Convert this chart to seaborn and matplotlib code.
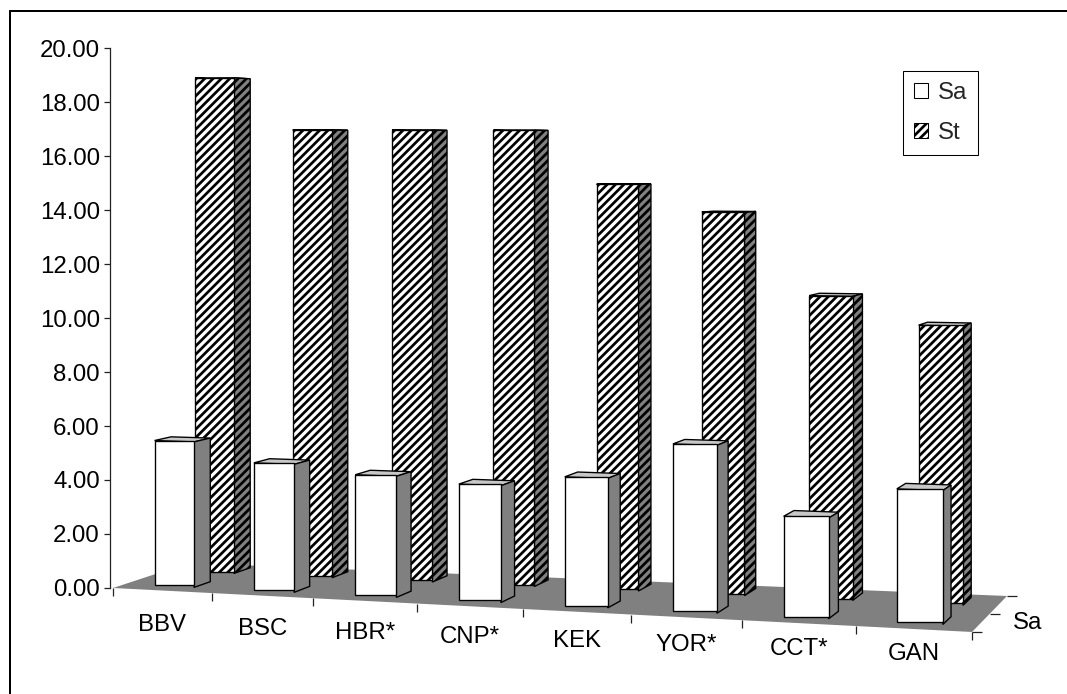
import numpy as np
import pandas as pd
import matplotlib
matplotlib.use("Agg")
import matplotlib.pyplot as plt
import seaborn as sns
from matplotlib.patches import Polygon, Patch
from matplotlib.lines import Line2D

# ---------------- data ----------------
categories = ["BBV", "BSC", "HBR*", "CNP*", "KEK", "YOR*", "CCT*", "GAN"]
sa_values = [5.4, 4.7, 4.4, 4.2, 4.6, 5.9, 3.5, 4.6]
st_values = [19.0, 17.0, 17.0, 17.0, 15.0, 14.0, 11.0, 10.0]
series_names = ["Sa", "St"]
y_ticks = np.arange(0, 21, 2)

# ---------------- style ----------------
DPI = 75
W, H = 1067, 694
FS = 24 * 72 / DPI  # 24 px text
sns.set_theme(style="white")
plt.rcParams["font.family"] = ["Liberation Sans", "DejaVu Sans"]
plt.rcParams["hatch.linewidth"] = 2.6

fig = plt.figure(figsize=(W / DPI, H / DPI), dpi=DPI)
fig.patch.set_facecolor("white")
ax = fig.add_axes([0, 0, 1, 1])
ax.set_facecolor("white")

# ---------------- pseudo-3D projection (Excel-like perspective) ----------------
X0, Y0 = 113.0, 588.0          # front-left floor corner (pixels)
PX_PER_UNIT = 27.0             # value scale at front-left
A_COEF, C_COEF = 96.82, -0.01086
FRONT_SLOPE = 0.0512
VP = (1439.0, 152.0)           # vanishing point of depth lines
F0, F1 = 0.0573, 0.075         # depth fraction at left / right
N = len(categories)


def to_val(py):
    return (Y0 - py) / PX_PER_UNIT


def project(s, t, v):
    w = 1 + C_COEF * s
    xf = (A_COEF * s + X0) / w
    yf = Y0 + FRONT_SLOPE * (xf - X0)
    frac = t * (F0 + (F1 - F0) * s / N)
    x = xf + frac * (VP[0] - xf)
    y = yf + frac * (VP[1] - yf) - (1 - frac) * v * PX_PER_UNIT / w
    return x, to_val(y)


ax.set_xlim(0, W)
ax.set_ylim(to_val(H), to_val(0))

# floor
floor = Polygon([project(0, 0, 0), project(N, 0, 0), project(N, 1, 0), project(0, 1, 0)],
                closed=True, facecolor="#808080", edgecolor="none", zorder=1)
ax.add_patch(floor)

depth = {"Sa": (0.16, 0.38), "St": (0.70, 0.92)}
hatch = {"Sa": None, "St": "///"}
base_z = {"Sa": 6, "St": 3}
values = {"Sa": sa_values, "St": st_values}

for name in ["St", "Sa"]:
    before = len(ax.patches)
    sns.barplot(x=np.arange(N) + 0.5, y=values[name], native_scale=True, orient="x",
                color="white", edgecolor="black", linewidth=1.3, errorbar=None,
                saturation=1, ax=ax)
    bars = ax.patches[before:]
    t0, t1 = depth[name]
    for i, bar in enumerate(bars):
        v = bar.get_height()
        s0, s1 = i + 0.3, i + 0.7
        xl, yb = project(s0, t0, 0)
        xr, _ = project(s1, t0, 0)
        _, yt = project(s0, t0, v)
        bar.set_x(xl)
        bar.set_width(xr - xl)
        bar.set_y(yb)
        bar.set_height(yt - yb)
        bar.set_facecolor("white")
        bar.set_edgecolor("black")
        bar.set_zorder(base_z[name] + 2)
        if hatch[name]:
            bar.set_hatch(hatch[name])
        side = Polygon([project(s1, t0, 0), project(s1, t1, 0), project(s1, t1, v), project(s1, t0, v)],
                       closed=True, facecolor="#808080", edgecolor="black", linewidth=1.3,
                       hatch=hatch[name], zorder=base_z[name] + 1)
        top = Polygon([project(s0, t0, v), project(s1, t0, v), project(s1, t1, v), project(s0, t1, v)],
                      closed=True, facecolor="#c8c8c8", edgecolor="black", linewidth=1.3,
                      zorder=base_z[name])
        ax.add_patch(side)
        ax.add_patch(top)

ax.set_xlim(0, W)
ax.set_ylim(to_val(H), to_val(0))

# ---------------- category axis (front edge) ----------------
tick_len = 8 / PX_PER_UNIT
for s in range(N + 1):
    x, y = project(s, 0, 0)
    ax.plot([x, x], [y, y - tick_len], color="#222222", lw=1.2, zorder=2, solid_capstyle="butt")
for i, lab in enumerate(categories):
    x, _ = project(i + 0.5, 0, 0)
    py = 622.5 + 0.038 * (x - 162) + 8.6
    ax.text(x, to_val(py), lab, ha="center", va="baseline", fontsize=FS, color="black")

# series axis on the right edge
for t in [0, 0.5, 1]:
    x, y = project(N, t, 0)
    ax.plot([x, x + 10], [y, y], color="#222222", lw=1.2, zorder=2, solid_capstyle="butt")
x, y = project(N, 0.25, 0)
ax.text(x + 32, y, series_names[0], ha="left", va="center", fontsize=FS, color="black")

# ---------------- value axis ----------------
for sp in ["top", "right", "bottom"]:
    ax.spines[sp].set_visible(False)
ax.spines["left"].set_position(("data", 110))
ax.spines["left"].set_bounds(0, 20)
ax.spines["left"].set_color("#222222")
ax.spines["left"].set_linewidth(1.2)
ax.spines["left"].set_zorder(2)
ax.set_xticks([])
ax.set_yticks(y_ticks)
ax.set_yticklabels([f"{t:.2f}" for t in y_ticks])
ax.tick_params(axis="y", direction="out", length=6 * 72 / DPI, width=1.2, color="#222222",
               pad=4 * 72 / DPI, labelsize=FS, labelcolor="black", left=True)
ax.set_xlabel("")
ax.set_ylabel("")
ax.grid(False)

# ---------------- legend ----------------
handles = [Patch(facecolor="white", edgecolor="black", linewidth=1.0, label="Sa"),
           Patch(facecolor="white", edgecolor="black", linewidth=1.0, hatch="///", label="St")]
leg = ax.legend(handles=handles, loc="upper left", bbox_to_anchor=(903 / W, 1 - 71 / H),
                bbox_transform=ax.transAxes, frameon=True, fancybox=False, framealpha=1,
                edgecolor="black", borderaxespad=0, fontsize=FS, handlelength=0.6,
                handleheight=0.6, handletextpad=0.4, labelspacing=0.75, borderpad=0.45)
leg.get_frame().set_linewidth(1.0)
leg.set_zorder(20)

# ---------------- outer border (top and left only visible) ----------------
fig.add_artist(Line2D([9.5 / W, 1], [1 - 10.5 / H, 1 - 10.5 / H], color="black", lw=2 * 72 / DPI))
fig.add_artist(Line2D([9.5 / W, 9.5 / W], [0, 1 - 10.5 / H], color="black", lw=2 * 72 / DPI))

fig.savefig("out.png", dpi=DPI)
